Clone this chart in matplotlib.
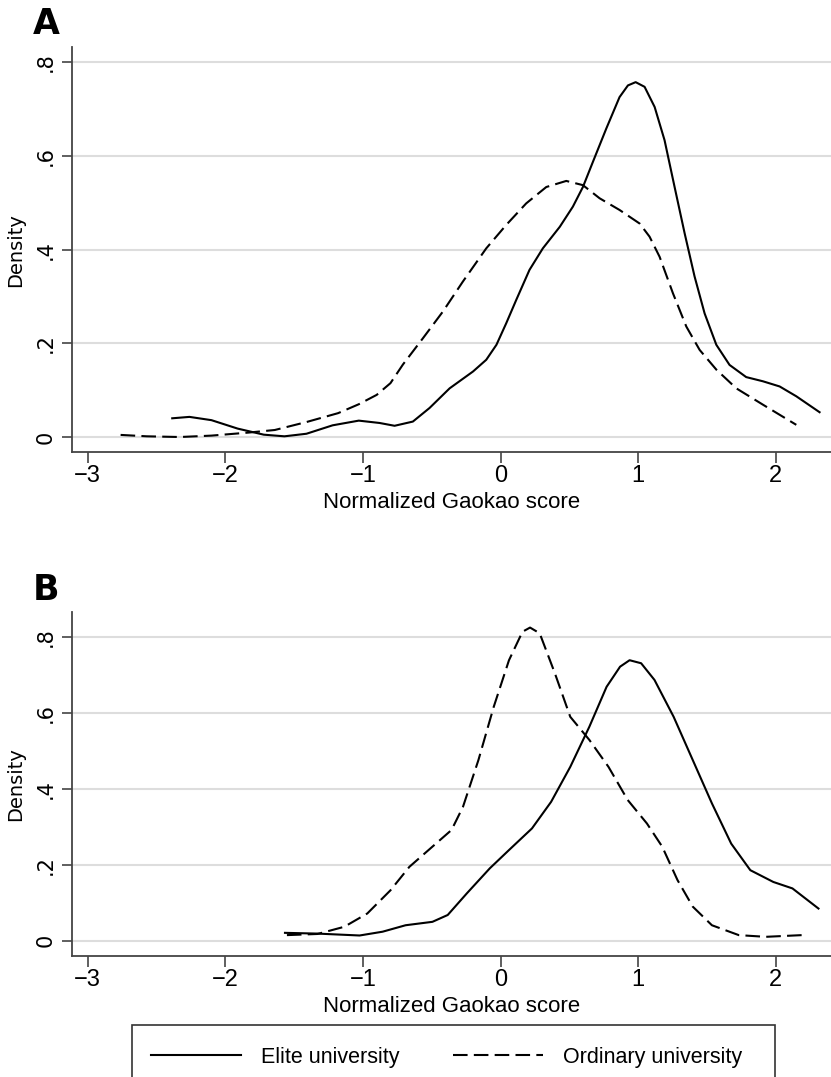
import numpy as np
import matplotlib.pyplot as plt
from matplotlib.patches import Rectangle
from matplotlib.lines import Line2D

# Panel A: elite (solid) and ordinary (dashed) densities
a_elite_x = [-2.385, -2.26, -2.10, -1.91, -1.72, -1.57, -1.41, -1.22, -1.03, -0.879, -0.77,
             -0.637, -0.516, -0.37, -0.20, -0.104, -0.03, 0.041, 0.114, 0.21, 0.307, 0.43,
             0.525, 0.598, 0.671, 0.768, 0.864, 0.925, 0.981, 1.046, 1.119, 1.191, 1.264,
             1.337, 1.409, 1.482, 1.567, 1.663, 1.784, 1.906, 2.027, 2.148, 2.317]
a_elite_y = [0.040, 0.043, 0.036, 0.018, 0.005, 0.0015, 0.007, 0.025, 0.035, 0.030, 0.024,
             0.033, 0.062, 0.104, 0.140, 0.165, 0.197, 0.243, 0.293, 0.357, 0.403, 0.449,
             0.492, 0.534, 0.588, 0.659, 0.726, 0.751, 0.758, 0.748, 0.705, 0.634, 0.534,
             0.435, 0.343, 0.264, 0.197, 0.154, 0.128, 0.119, 0.108, 0.087, 0.053]
a_ord_x = [-2.76, -2.57, -2.33, -2.10, -1.83, -1.64, -1.41, -1.18, -1.03, -0.90, -0.80,
           -0.709, -0.564, -0.419, -0.274, -0.104, 0.041, 0.186, 0.332, 0.477, 0.598, 0.719,
           0.864, 1.010, 1.082, 1.155, 1.252, 1.349, 1.446, 1.567, 1.712, 1.906, 2.148]
a_ord_y = [0.0045, 0.0015, 0.0, 0.003, 0.0095, 0.015, 0.032, 0.051, 0.070, 0.090, 0.115,
           0.155, 0.211, 0.268, 0.332, 0.403, 0.453, 0.499, 0.534, 0.547, 0.538, 0.510,
           0.485, 0.456, 0.428, 0.385, 0.307, 0.236, 0.186, 0.144, 0.104, 0.069, 0.026]

# Panel B
b_elite_x = [-1.566, -1.33, -1.024, -0.857, -0.69, -0.495, -0.384, -0.245, -0.078, 0.061,
             0.228, 0.367, 0.506, 0.645, 0.77, 0.868, 0.937, 1.021, 1.118, 1.257, 1.396,
             1.535, 1.675, 1.814, 1.981, 2.12, 2.309]
b_elite_y = [0.021, 0.019, 0.014, 0.024, 0.041, 0.050, 0.068, 0.125, 0.191, 0.239,
             0.296, 0.366, 0.458, 0.564, 0.669, 0.722, 0.739, 0.731, 0.687, 0.590, 0.476,
             0.362, 0.256, 0.186, 0.155, 0.138, 0.085]
b_ord_x = [-1.552, -1.33, -1.135, -0.968, -0.80, -0.662, -0.495, -0.356, -0.273, -0.161,
           -0.05, 0.061, 0.159, 0.214, 0.284, 0.395, 0.506, 0.645, 0.784, 0.923, 1.063,
           1.174, 1.285, 1.396, 1.535, 1.73, 1.925, 2.19]
b_ord_y = [0.015, 0.018, 0.037, 0.072, 0.133, 0.195, 0.248, 0.292, 0.353, 0.476,
           0.616, 0.739, 0.814, 0.825, 0.810, 0.704, 0.590, 0.529, 0.458, 0.371, 0.309,
           0.248, 0.160, 0.090, 0.041, 0.015, 0.0105, 0.015]

xticks = [-3, -2, -1, 0, 1, 2]
yticks = [0, 0.2, 0.4, 0.6, 0.8]
ytick_labels = ['0', '.2', '.4', '.6', '.8']
legend_labels = ['Elite university', 'Ordinary university']

W, H = 831, 1077
fig = plt.figure(figsize=(W / 100, H / 100), dpi=100)

dash = (0, (7, 3))
lbl_font = ['Liberation Sans', 'DejaVu Sans']


def setup(ax, ylim):
    ax.set_xlim(-3.113, 2.40)
    ax.set_ylim(*ylim)
    for s in ['top', 'right']:
        ax.spines[s].set_visible(False)
    for s in ['left', 'bottom']:
        ax.spines[s].set_color('#444444')
        ax.spines[s].set_linewidth(1.3)
    ax.set_xticks(xticks)
    ax.set_yticks(yticks)
    ax.set_yticklabels(ytick_labels, fontsize=15, family='DejaVu Sans', rotation=90, va='center')
    ax.set_xticklabels([f"\u2212{abs(t)}" if t < 0 else str(t) for t in xticks],
                       fontsize=17, family=lbl_font)
    ax.tick_params(axis='x', length=8, width=1.2, color='#444444', pad=1)
    ax.tick_params(axis='y', length=7, width=1.2, color='#444444', pad=5)
    ax.grid(axis='y', color='#dddddd', linewidth=1.5)
    ax.set_axisbelow(True)
    ax.set_xlabel('Normalized Gaokao score', fontsize=16, family=lbl_font, labelpad=4)
    ax.set_ylabel('Density', fontsize=14, family='DejaVu Sans')


# panel A
axA = fig.add_axes([72 / W, 1 - 452 / H, 1 - 72 / W, (452 - 47.5) / H])
axA.plot(a_elite_x, a_elite_y, color='black', lw=1.5)
axA.plot(a_ord_x, a_ord_y, color='black', lw=1.5, linestyle=dash)
setup(axA, (-0.032, 0.832))
axA.yaxis.set_label_coords(-0.062, 0.5)

# panel B
axB = fig.add_axes([72 / W, 1 - 956 / H, 1 - 72 / W, (956 - 612) / H])
axB.plot(b_elite_x, b_elite_y, color='black', lw=1.5)
axB.plot(b_ord_x, b_ord_y, color='black', lw=1.5, linestyle=dash)
setup(axB, (-0.04, 0.866))
axB.yaxis.set_label_coords(-0.062, 0.5)

fig.text(33 / W, 1 - 7 / H, 'A', fontsize=25, fontweight='bold', family='DejaVu Sans', va='top')
fig.text(33 / W, 1 - 573 / H, 'B', fontsize=25, fontweight='bold', family='DejaVu Sans', va='top')

# legend box, cut off at bottom like the original
fig.patches.append(Rectangle((132 / W, -0.05), (775 - 132) / W, 0.05 + 1 - 1025 / H,
                             transform=fig.transFigure, fill=False, edgecolor='#333333', lw=1.2))
handles = [Line2D([], [], color='black', lw=1.5),
           Line2D([], [], color='black', lw=1.5, linestyle=dash)]
fig.legend(handles, legend_labels, loc='center left', bbox_to_anchor=(140 / W, 1 - 1057 / H),
           ncol=2, frameon=False, borderpad=0, handlelength=4.2, handletextpad=0.9,
           columnspacing=2.5, prop={'family': lbl_font, 'size': 15.5})

fig.savefig('out.png', dpi=100)
